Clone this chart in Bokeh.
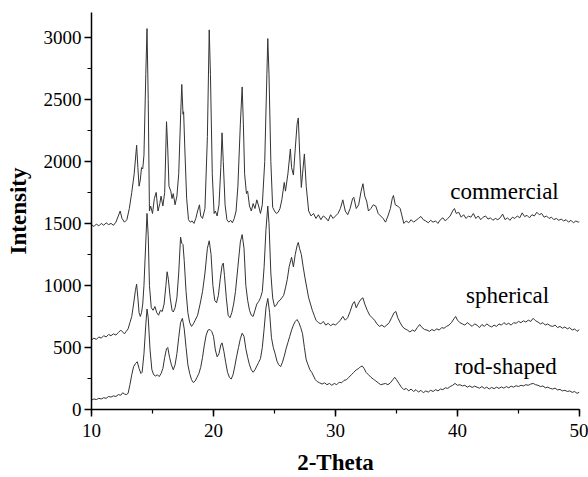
from bokeh.plotting import figure
from bokeh.models import Range1d, SingleIntervalTicker, Label
from bokeh.embed import file_html
from bokeh.resources import INLINE

# ---- data (2-Theta, Intensity) ----
commercial_x = [10.0, 10.2, 10.4, 10.6, 10.8, 11.0, 11.2, 11.4, 11.6, 11.8, 12.0, 12.2, 12.35, 12.5, 12.7, 12.9,
                13.1, 13.3, 13.5, 13.7, 13.8, 13.9, 14.0, 14.1, 14.2, 14.3, 14.45, 14.55, 14.65, 14.75, 14.85, 15.0,
                15.15, 15.3, 15.45, 15.6, 15.7, 15.85, 16.0, 16.15, 16.25, 16.35, 16.5, 16.6, 16.7, 16.85, 17.0, 17.15,
                17.3, 17.4, 17.5, 17.55, 17.65, 17.8, 17.95, 18.1, 18.25, 18.4, 18.55, 18.7, 18.85, 18.95, 19.1, 19.3,
                19.5, 19.65, 19.75, 19.9, 20.05, 20.15, 20.3, 20.45, 20.6, 20.7, 20.8, 20.95, 21.1, 21.25, 21.4, 21.55,
                21.7, 21.85, 22.0, 22.2, 22.35, 22.45, 22.55, 22.7, 22.8, 22.95, 23.1, 23.25, 23.4, 23.55, 23.7, 23.85,
                24.0, 24.2, 24.35, 24.45, 24.55, 24.7, 24.85, 25.0, 25.15, 25.3, 25.45, 25.6, 25.8, 25.9, 26.1, 26.3,
                26.4, 26.55, 26.7, 26.85, 26.95, 27.05, 27.2, 27.3, 27.45, 27.6, 27.8, 28.0, 28.2, 28.4, 28.6, 28.8,
                29.0, 29.2, 29.4, 29.6, 29.8, 30.0, 30.2, 30.4, 30.6, 30.8, 31.0, 31.2, 31.4, 31.5, 31.7, 31.9, 32.1,
                32.25, 32.4, 32.55, 32.7, 32.9, 33.1, 33.3, 33.5, 33.7, 33.9, 34.1, 34.3, 34.5, 34.65, 34.75, 34.9,
                35.1, 35.3, 35.45, 35.6, 35.8, 36.0, 36.2, 36.4, 36.6, 36.8, 37.0, 37.2, 37.4, 37.6, 37.8, 38.0, 38.2,
                38.4, 38.6, 38.8, 39.0, 39.2, 39.4, 39.6, 39.75, 39.9, 40.1, 40.3, 40.5, 40.7, 40.9, 41.1, 41.3, 41.5,
                41.7, 41.9, 42.1, 42.3, 42.5, 42.7, 42.9, 43.1, 43.3, 43.5, 43.7, 43.9, 44.1, 44.3, 44.5, 44.7, 44.9,
                45.1, 45.3, 45.5, 45.7, 45.9, 46.1, 46.3, 46.5, 46.7, 46.9, 47.1, 47.3, 47.5, 47.7, 47.9, 48.1, 48.3,
                48.5, 48.7, 48.9, 49.1, 49.3, 49.5, 49.7, 49.9, 50.0]
commercial_y = [1490, 1475, 1495, 1480, 1500, 1485, 1505, 1490, 1500, 1485, 1510, 1560, 1600, 1540, 1510, 1530,
                1620, 1750, 1900, 2130, 1950, 1800, 1850, 1950, 1940, 2050, 2700, 3070, 2500, 1600, 1640, 1580,
                1700, 1750, 1600, 1660, 1720, 1640, 1750, 2320, 2100, 1800, 1760, 1700, 1740, 1650, 1720, 1900,
                2350, 2620, 2380, 2400, 2100, 1700, 1530, 1510, 1520, 1500, 1540, 1600, 1650, 1560, 1540, 1620,
                2200, 3060, 2700, 1900, 1580, 1600, 1560, 1650, 1950, 2230, 2000, 1650, 1530, 1510, 1525, 1505,
                1540, 1600, 1800, 2300, 2600, 2300, 1900, 1740, 1760, 1640, 1600, 1660, 1620, 1690, 1640, 1580,
                1650, 2000, 2600, 2990, 2700, 2000, 1630, 1600, 1580, 1590, 1620, 1690, 1830, 1760, 1900, 2100,
                1950, 1890, 2100, 2300, 2350, 2100, 1790, 1900, 2060, 1800, 1600, 1560, 1580, 1540, 1570, 1530,
                1560, 1545, 1520, 1570, 1540, 1560, 1580, 1620, 1690, 1600, 1570, 1620, 1700, 1710, 1620, 1650, 1760,
                1820, 1720, 1680, 1600, 1620, 1650, 1640, 1580, 1560, 1540, 1510, 1560, 1620, 1700, 1725, 1650,
                1640, 1620, 1560, 1500, 1520, 1505, 1530, 1510, 1525, 1540, 1556, 1530, 1520, 1505, 1525, 1510, 1520,
                1500, 1530, 1545, 1520, 1540, 1560, 1600, 1620, 1580, 1590, 1550, 1570, 1540, 1560, 1550, 1580, 1540,
                1560, 1530, 1550, 1560, 1535, 1545, 1525, 1540, 1530, 1545, 1575, 1530, 1545, 1525, 1550, 1540, 1560,
                1545, 1585, 1555, 1565, 1545, 1570, 1560, 1590, 1570, 1580, 1550, 1560, 1540, 1550, 1530, 1540, 1525,
                1535, 1520, 1530, 1510, 1525, 1505, 1520, 1510, 1515]

spherical_x = [10.0, 10.2, 10.4, 10.6, 10.8, 11.0, 11.2, 11.4, 11.6, 11.8, 12.0, 12.2, 12.4, 12.55, 12.7, 12.85,
               13.0, 13.15, 13.3, 13.45, 13.6, 13.7, 13.8, 13.9, 14.0, 14.1, 14.2, 14.3, 14.45, 14.55, 14.65, 14.75,
               14.9, 15.05, 15.2, 15.35, 15.5, 15.65, 15.8, 15.95, 16.1, 16.2, 16.3, 16.45, 16.6, 16.7, 16.85, 17.0,
               17.15, 17.3, 17.4, 17.5, 17.6, 17.75, 17.9, 18.05, 18.2, 18.35, 18.5, 18.7, 18.9, 19.1, 19.3, 19.5,
               19.65, 19.8, 19.95, 20.1, 20.25, 20.4, 20.55, 20.7, 20.8, 20.9, 21.05, 21.2, 21.35, 21.5, 21.65, 21.8,
               22.0, 22.2, 22.35, 22.5, 22.65, 22.8, 22.95, 23.1, 23.25, 23.4, 23.55, 23.7, 23.85, 24.0, 24.15, 24.3,
               24.45, 24.55, 24.7, 24.85, 25.0, 25.15, 25.3, 25.45, 25.6, 25.75, 25.9, 26.05, 26.2, 26.4, 26.55, 26.7,
               26.85, 26.95, 27.05, 27.2, 27.35, 27.5, 27.65, 27.8, 27.95, 28.1, 28.25, 28.4, 28.6, 28.8, 29.0, 29.2,
               29.4, 29.6, 29.8, 30.0, 30.2, 30.4, 30.6, 30.8, 31.0, 31.2, 31.4, 31.55, 31.7, 31.9, 32.1, 32.25, 32.4,
               32.6, 32.8, 33.0, 33.2, 33.4, 33.6, 33.8, 34.0, 34.2, 34.4, 34.6, 34.8, 34.95, 35.1, 35.3, 35.5, 35.7,
               35.9, 36.1, 36.3, 36.5, 36.7, 36.9, 37.1, 37.3, 37.5, 37.7, 37.9, 38.1, 38.3, 38.5, 38.7, 38.9, 39.1,
               39.3, 39.5, 39.7, 39.85, 40.0, 40.2, 40.4, 40.6, 40.8, 41.0, 41.2, 41.4, 41.6, 41.8, 42.0, 42.2, 42.4,
               42.6, 42.8, 43.0, 43.2, 43.4, 43.6, 43.8, 44.0, 44.2, 44.4, 44.6, 44.8, 45.0, 45.2, 45.4, 45.6, 45.8,
               46.0, 46.2, 46.4, 46.6, 46.8, 47.0, 47.2, 47.4, 47.6, 47.8, 48.0, 48.2, 48.4, 48.6, 48.8, 49.0, 49.2,
               49.4, 49.6, 49.8, 50.0]
spherical_y = [560, 575, 565, 585, 575, 595, 585, 605, 595, 610, 600, 620, 640, 625, 610, 630,
               650, 700, 750, 850, 960, 1010, 900, 780, 750, 780, 850, 1000, 1350, 1580, 1400, 1000,
               820, 800, 830, 780, 760, 800, 790, 850, 1000, 1110, 1050, 900, 800, 786, 820, 900,
               1100, 1390, 1340, 1330, 1200, 950, 780, 700, 670, 690, 720, 760, 850, 950, 1100, 1300,
               1360, 1250, 1000, 880, 860, 920, 1050, 1160, 1180, 1080, 900, 760, 740, 780, 850, 950,
               1150, 1350, 1410, 1300, 1000, 880, 800, 760, 750, 800, 850, 870, 900, 950, 1150, 1450,
               1640, 1500, 1100, 900, 830, 840, 870, 880, 900, 920, 980, 1050, 1150, 1227, 1150, 1250,
               1320, 1347, 1300, 1250, 1150, 1060, 980, 900, 850, 800, 760, 720, 700, 690, 710, 680,
               695, 675, 690, 680, 700, 720, 750, 720, 740, 790, 850, 870, 820, 860, 890, 900, 850,
               800, 760, 740, 720, 690, 670, 680, 665, 680, 700, 740, 780, 790, 740, 700, 666, 650,
               640, 625, 640, 630, 660, 685, 660, 645, 640, 630, 645, 635, 650, 640, 660, 655, 670,
               680, 700, 730, 750, 720, 700, 690, 680, 700, 685, 670, 690, 680, 660, 685, 670, 690,
               675, 665, 680, 670, 690, 680, 700, 685, 695, 680, 700, 695, 710, 700, 715, 705, 720,
               710, 735, 715, 705, 690, 700, 680, 690, 675, 670, 680, 660, 670, 655, 665, 650, 660,
               640, 650, 630, 645]

rod_x = [10.0, 10.2, 10.4, 10.6, 10.8, 11.0, 11.2, 11.4, 11.6, 11.8, 12.0, 12.2, 12.4, 12.55, 12.7, 12.85,
         13.0, 13.15, 13.3, 13.45, 13.6, 13.75, 13.9, 14.05, 14.15, 14.3, 14.45, 14.55, 14.65, 14.8, 14.95, 15.1,
         15.25, 15.4, 15.55, 15.7, 15.85, 16.0, 16.15, 16.25, 16.4, 16.55, 16.7, 16.85, 17.0, 17.15, 17.3, 17.45,
         17.6, 17.75, 17.9, 18.05, 18.2, 18.35, 18.5, 18.65, 18.8, 18.95, 19.1, 19.25, 19.4, 19.55, 19.7, 19.85,
         20.0, 20.15, 20.3, 20.45, 20.6, 20.7, 20.85, 21.0, 21.15, 21.3, 21.45, 21.6, 21.75, 21.9, 22.05, 22.2,
         22.35, 22.5, 22.65, 22.8, 22.95, 23.1, 23.25, 23.4, 23.55, 23.7, 23.85, 24.0, 24.15, 24.3, 24.45, 24.6,
         24.75, 24.9, 25.05, 25.2, 25.35, 25.5, 25.65, 25.8, 25.95, 26.1, 26.25, 26.4, 26.55, 26.7, 26.85, 27.0,
         27.15, 27.3, 27.45, 27.6, 27.75, 27.9, 28.05, 28.2, 28.35, 28.5, 28.7, 28.9, 29.1, 29.3, 29.5, 29.7,
         29.9, 30.1, 30.3, 30.5, 30.7, 30.9, 31.1, 31.3, 31.5, 31.7, 31.9, 32.05, 32.2, 32.35, 32.5, 32.7, 32.9,
         33.1, 33.3, 33.5, 33.7, 33.9, 34.1, 34.3, 34.5, 34.7, 34.85, 35.0, 35.2, 35.4, 35.6, 35.8, 36.0, 36.2,
         36.4, 36.6, 36.8, 37.0, 37.2, 37.4, 37.6, 37.8, 38.0, 38.2, 38.4, 38.6, 38.8, 39.0, 39.2, 39.4, 39.6,
         39.8, 40.0, 40.2, 40.4, 40.6, 40.8, 41.0, 41.2, 41.4, 41.6, 41.8, 42.0, 42.2, 42.4, 42.6, 42.8, 43.0,
         43.2, 43.4, 43.6, 43.8, 44.0, 44.2, 44.4, 44.6, 44.8, 45.0, 45.2, 45.4, 45.6, 45.8, 46.0, 46.2, 46.4,
         46.6, 46.8, 47.0, 47.2, 47.4, 47.6, 47.8, 48.0, 48.2, 48.4, 48.6, 48.8, 49.0, 49.2, 49.4, 49.6, 49.8, 50.0]
rod_y = [75, 85, 80, 90, 85, 95, 90, 105, 100, 110, 105, 120, 115, 135, 125, 120,
         130, 200, 280, 345, 370, 385, 330, 290, 300, 450, 680, 810, 740, 480, 320, 280,
         270, 280, 265, 290, 330, 420, 490, 500, 420, 360, 320, 360, 450, 580, 700, 735,
         650, 500, 360, 290, 240, 217, 230, 260, 290, 340, 420, 520, 600, 640, 645, 630,
         590, 480, 425, 450, 520, 537, 470, 380, 300, 260, 245, 280, 350, 430, 500, 570,
         615, 590, 490, 420, 360, 320, 300, 320, 350, 380, 410, 500, 650, 820, 895, 780,
         580, 500, 450, 390, 360, 345, 380, 430, 490, 540, 590, 640, 680, 710, 725, 700,
         660, 610, 500, 400, 360, 320, 300, 270, 240, 225, 215, 205, 215, 200, 210, 195,
         210, 200, 220, 215, 235, 240, 260, 280, 300, 320, 330, 345, 350, 330, 300, 280, 260,
         245, 230, 215, 200, 205, 210, 200, 215, 240, 260, 240, 210, 180, 160, 170, 150, 165,
         145, 160, 140, 155, 135, 150, 140, 155, 145, 160, 150, 165, 160, 175, 170, 185, 195,
         210, 195, 200, 190, 195, 180, 190, 178, 188, 180, 172, 185, 170, 180, 165, 178, 168,
         180, 170, 182, 172, 185, 175, 188, 180, 192, 185, 195, 190, 200, 195, 205, 210, 200,
         195, 185, 190, 175, 180, 170, 165, 172, 158, 162, 150, 155, 145, 150, 138, 145, 130, 140]

series_names = ["commercial", "spherical", "rod-shaped"]
label_x = [39.4, 40.7, 39.75]
label_y = [1755, 920, 345]

SERIF = "Liberation Serif"

p = figure(width=588, height=477, output_backend="svg", toolbar_location=None,
           x_range=Range1d(10, 50), y_range=Range1d(0, 3200),
           min_border_left=91, min_border_right=9, min_border_top=12, min_border_bottom=67,
           background_fill_color="white", border_fill_color="white")
p.outline_line_color = None
p.grid.visible = False

line_color = "#333333"
p.line(commercial_x, commercial_y, line_color=line_color, line_width=1)
p.line(spherical_x, spherical_y, line_color=line_color, line_width=1)
p.line(rod_x, rod_y, line_color=line_color, line_width=1)

for name, lx, ly in zip(series_names, label_x, label_y):
    p.add_layout(Label(x=lx, y=ly, text=name, text_font=SERIF, text_font_size="23px",
                       text_color="black", text_baseline="alphabetic", text_align="left"))

p.xaxis.ticker = SingleIntervalTicker(interval=10, num_minor_ticks=2)
p.yaxis.ticker = SingleIntervalTicker(interval=500, num_minor_ticks=2)
p.xaxis.axis_label = "2-Theta"
p.yaxis.axis_label = "Intensity"
for ax in (p.xaxis[0], p.yaxis[0]):
    ax.axis_line_width = 1.5
    ax.axis_line_color = "black"
    ax.major_tick_line_color = "black"
    ax.minor_tick_line_color = "black"
    ax.major_tick_line_width = 1.5
    ax.minor_tick_line_width = 1.2
    ax.major_tick_out = 7
    ax.major_tick_in = 0
    ax.minor_tick_out = 4
    ax.minor_tick_in = 0
    ax.major_label_text_font = SERIF
    ax.major_label_text_font_style = "normal"
    ax.major_label_text_font_size = "19px"
    ax.major_label_text_color = "black"
    ax.axis_label_text_font = SERIF
    ax.axis_label_text_font_style = "bold"
    ax.axis_label_text_font_size = "23px"
    ax.axis_label_text_color = "black"
p.xaxis.major_label_standoff = 7
p.xaxis.axis_label_standoff = 10
p.yaxis.major_label_standoff = 3
p.yaxis.axis_label_standoff = 10

open("out.html", "w").write(file_html(p, INLINE))
